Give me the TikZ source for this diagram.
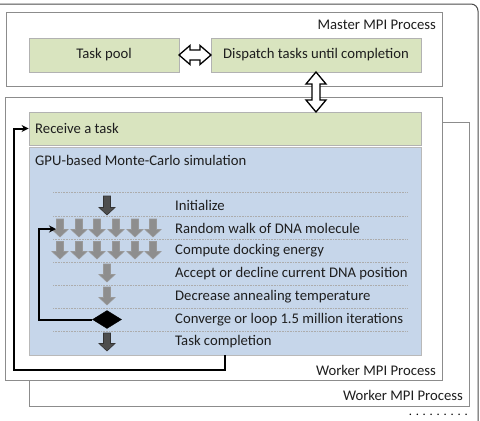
\documentclass[tikz,border=0pt]{standalone}
\usepackage{fontspec}
\setmainfont{Carlito}
\usetikzlibrary{shapes.geometric,arrows.meta,calc}
\definecolor{boxgreen}{HTML}{D9E4BF}
\definecolor{boxblue}{HTML}{C6D6EA}
\definecolor{edgegray}{HTML}{8C8C8C}
\definecolor{txt}{HTML}{1E1E1E}
\definecolor{arrgray}{HTML}{8E8E8E}
\definecolor{arrdark}{HTML}{4E4E4E}
\newcommand\blockdown[4]{%
  \filldraw[#4] ({#1-3.5},#2) -- ({#1+3.5},#2) -- ({#1+3.5},{#3-7.5}) -- ({#1+8},{#3-7.5}) -- (#1,#3) -- ({#1-8},{#3-7.5}) -- ({#1-3.5},{#3-7.5}) -- cycle;}
\tikzset{
  procbox/.style={draw=edgegray, line width=0.9, fill=white},
  greenbox/.style={draw=gray!60, line width=0.8, fill=boxgreen, inner sep=0, text=txt},
  lbl/.style={text=txt, inner sep=0},
  rowsep/.style={draw=gray!65, line width=0.6, dash pattern=on 0.8 off 0.8},
  grayarr/.style={fill=arrgray, draw=gray!120!black, line width=0.6},
  darkarr/.style={fill=arrdark, draw=black!80, line width=0.6},
  hollow/.style={draw=black, line width=1.3, fill=white, line join=miter},
  loopline/.style={draw=black, line width=2, -{Stealth[length=7,width=7]}}
}
\begin{document}
\begin{tikzpicture}[x=1pt,y=-1pt, every node/.style={font=\fontsize{14.7}{16}\selectfont}]
\useasboundingbox (0,0) rectangle (480,421);
% outer frame
\draw[draw=black!70, line width=1, rounded corners=7] (-2,4) -- (478,4) -- (478,425);
% worker 2 (behind)
\draw[procbox] (29,122) rectangle (469,406);
\node[lbl, anchor=east] (w2lbl) at (463,395) {Worker MPI Process};
\node[lbl, anchor=east, text=black, font=\fontsize{12.6}{14}\selectfont] (dots) at (468,415) {. . . . . . . . .};
% master
\draw[procbox] (6,12) rectangle (442,86);
\node[lbl, anchor=east] (mlbl) at (436,25) {Master MPI Process};
\node[greenbox, minimum width=150, minimum height=34] (pool) at (104,55) {Task pool};
\node[greenbox, minimum width=210, minimum height=34] (disp) at (316,55) {Dispatch tasks until completion};
% worker 1
\draw[procbox] (5,97) rectangle (442,380);
\node[lbl, anchor=east] (w1lbl) at (436,370) {Worker MPI Process};
\node[greenbox, minimum width=392, minimum height=33] (recv) at (225,128.5) {};
\node[lbl, anchor=west] (recvlbl) at (35,128.5) {Receive a task};
\node[draw=gray!55, line width=0.8, fill=boxblue, minimum width=392, minimum height=208, inner sep=0] (sim) at (225,251) {};
\node[lbl, anchor=west] (simlbl) at (35,160) {GPU-based Monte-Carlo simulation};
% row separators
\foreach \yy in {192,216,239,262,285,308,331} \draw[rowsep] (53,\yy) -- (408,\yy);
% row labels
\node[lbl, anchor=west] (r1) at (175,205) {Initialize};
\node[lbl, anchor=west] (r2) at (175,228) {Random walk of DNA molecule};
\node[lbl, anchor=west] (r3) at (175,251) {Compute docking energy};
\node[lbl, anchor=west] (r4) at (175,273.5) {Accept or decline current DNA position};
\node[lbl, anchor=west] (r5) at (175,296.5) {Decrease annealing temperature};
\node[lbl, anchor=west] (r6) at (175,319.5) {Converge or loop 1.5 million iterations};
\node[lbl, anchor=west] (r7) at (175,342) {Task completion};
% block arrows
\blockdown{107}{196}{215}{darkarr}
\foreach \xx in {60,79,97,116,135,153} {
  \blockdown{\xx}{219}{237}{grayarr}
  \blockdown{\xx}{241.5}{259}{grayarr}
}
\blockdown{107}{264}{282}{grayarr}
\blockdown{107}{287}{305}{grayarr}
\node[diamond, fill=black, draw=black, minimum width=29, minimum height=18, inner sep=0] (dia) at (107,319.5) {};
\blockdown{107}{333}{351}{darkarr}
% loops
\coordinate (rwin) at (56,229);
\draw[loopline] (dia.west) -- (39,319.5) |- (rwin);
\coordinate (simout) at (225,355);
\draw[loopline] (simout) |- (14,370) |- (recv.west);
% hollow double arrows
\draw[hollow] (179,55) -- (190,45.5) -- (190,50) -- (200,50) -- (200,45.5) -- (211,55) -- (200,64.5) -- (200,60) -- (190,60) -- (190,64.5) -- cycle;
\draw[hollow] (316,72) -- (326,84) -- (320,84) -- (320,100) -- (326,100) -- (316,112) -- (306,100) -- (312,100) -- (312,84) -- (306,84) -- cycle;
\end{tikzpicture}
\end{document}
